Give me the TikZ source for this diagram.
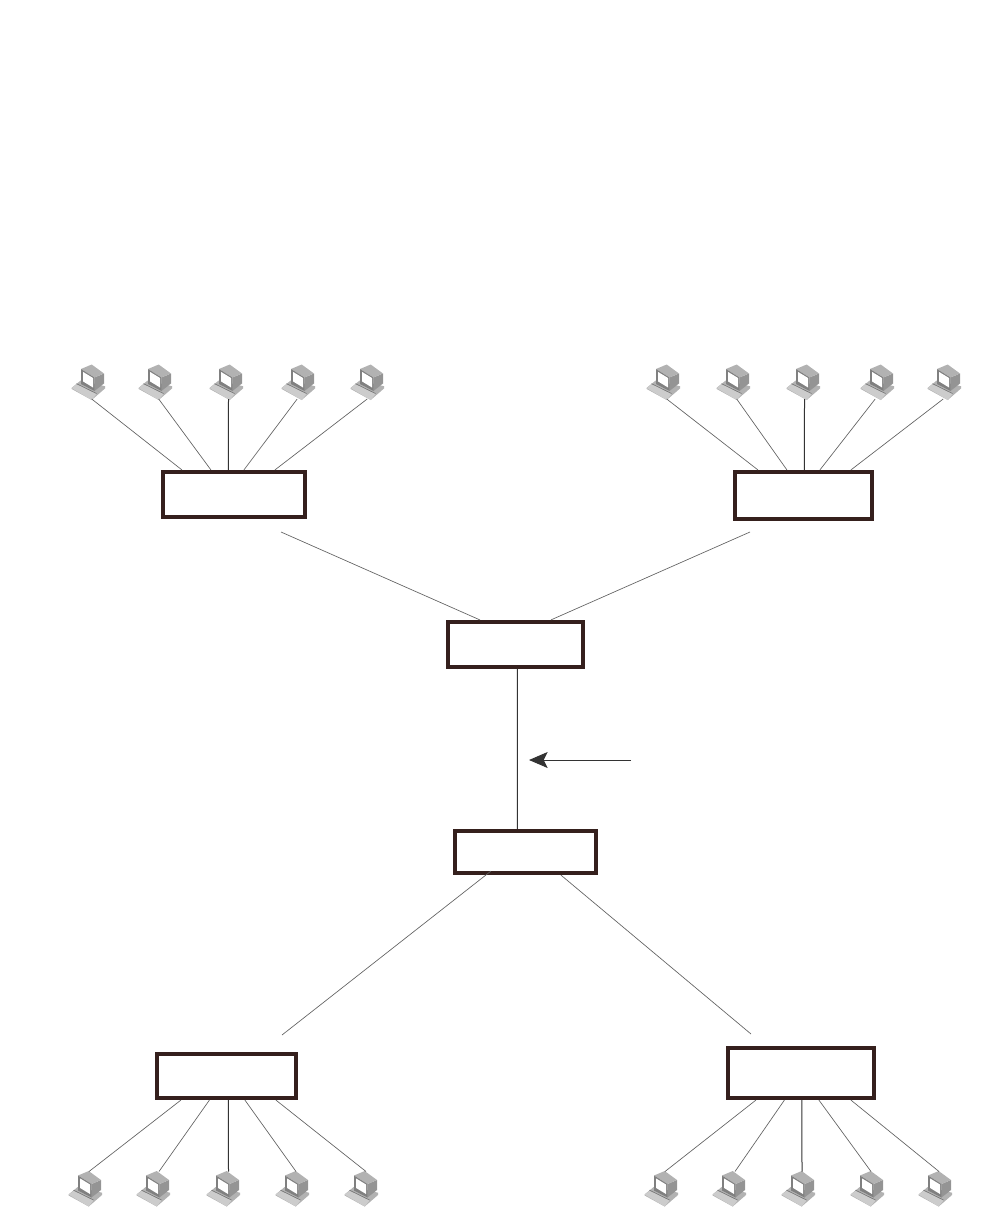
\documentclass[tikz,border=0pt]{standalone}
\usetikzlibrary{arrows.meta}
\definecolor{boxc}{HTML}{35201D}
\definecolor{darkl}{HTML}{333333}
\tikzset{
  box/.style 2 args={draw=boxc,line width=2.9pt,minimum width=#1*0.75pt,minimum height=#2*0.75pt,inner sep=0pt,fill=white},
  thin link/.style={draw=black!62,line width=0.5pt},
  dark link/.style={draw=darkl,line width=0.75pt},
  pc/.pic={
    % base
    \fill[black!30] (-0.3,22.3) -- (8.7,15) -- (33,20.7) -- (33,23) -- (19.7,34.5) -- (-0.3,23.5) -- cycle;
    % keyboard
    \fill[black!20] (-0.3,22.6) -- (5,18.5) -- (24.5,28.5) -- (19.7,34.5) -- cycle;
    \draw[black!55,line width=0.45pt] (4.5,18.2) -- (24.5,28);
    % monitor
    \fill[black!42] (32,8) -- (32,18) -- (22.5,25.5) -- (22.5,12) -- cycle;
    \fill[black!30] (9,3.5) -- (19.7,-1) -- (32,8) -- (22.5,12) -- cycle;
    \fill[black!50] (9,3.5) -- (22.5,12) -- (22.5,25.5) -- (9,18.5) -- cycle;
    \fill[white] (11.2,6.5) -- (21,12.5) -- (21,22) -- (11.2,16) -- cycle;
    \coordinate (-port) at (19.7,33.5);
    \coordinate (-top) at (20,-0.5);
  }
}
\begin{document}
\begin{tikzpicture}[x=0.75pt,y=-0.75pt]
\useasboundingbox (0,0) rectangle (982,1231);
% boxes
\node[box={142}{45}] (b1) at (233.85,494.35) {};
\node[box={137.3}{47}] (b2) at (803.5,495.35) {};
\node[box={135.3}{45.3}] (m1) at (515.5,644.5) {};
\node[box={141}{42.3}] (m2) at (525.35,852) {};
\node[box={139.3}{44.3}] (b3) at (226.5,1076) {};
\node[box={146.3}{50.3}] (b4) at (801,1073) {};
% computers
\foreach \n/\x in {a1/72,a2/139,a3/210,a4/282,a5/351,c1/647,c2/717,c3/787,c4/861,c5/928}
  \pic (\n) at (\x,365.5) {pc};
\foreach \n/\x in {d1/69,d2/137,d3/207,d4/276,d5/345,e1/645,e2/713,e3/782,e4/851,e5/919}
  \pic (\n) at (\x,1172) {pc};
% top-left
\draw[thin link] (a1-port) -- ([shift={(21,0)}]b1.north west);
\draw[thin link] (a2-port) -- ([shift={(50,0)}]b1.north west);
\draw[dark link] ([shift={(-1.2,0)}]a3-port) -- ([shift={(67.5,0)}]b1.north west);
\draw[thin link] ([shift={(-4.5,0)}]a4-port) -- ([shift={(83,0)}]b1.north west);
\draw[thin link] ([shift={(-3.5,0)}]a5-port) -- ([shift={(114,0)}]b1.north west);
% top-right
\draw[thin link] (c1-port) -- ([shift={(25,0)}]b2.north west);
\draw[thin link] (c2-port) -- ([shift={(54,0)}]b2.north west);
\draw[dark link] ([shift={(-2.2,0)}]c3-port) -- ([shift={(71.5,0)}]b2.north west);
\draw[thin link] ([shift={(-5.5,0)}]c4-port) -- ([shift={(87,0)}]b2.north west);
\draw[thin link] ([shift={(-4.5,0)}]c5-port) -- ([shift={(118,0)}]b2.north west);
% bottom-left
\draw[thin link] (d1-top) -- ([shift={(26,0)}]b3.south west);
\draw[thin link] ([shift={(2,0)}]d2-top) -- ([shift={(54.5,0)}]b3.south west);
\draw[dark link] ([shift={(1.5,0)}]d3-top) -- ([shift={(73.5,0)}]b3.south west);
\draw[thin link] (d4-top) -- ([shift={(90,0)}]b3.south west);
\draw[thin link] ([shift={(1,0)}]d5-top) -- ([shift={(121,0)}]b3.south west);
% bottom-right
\draw[thin link] (e1-top) -- ([shift={(30,0)}]b4.south west);
\draw[thin link] ([shift={(2,0)}]e2-top) -- ([shift={(58.5,0)}]b4.south west);
\draw[dark link] (e3-top) -- ([shift={(76,0)}]b4.south west);
\draw[thin link] (e4-top) -- ([shift={(93,0)}]b4.south west);
\draw[thin link] (e5-top) -- ([shift={(125,0)}]b4.south west);
% centre
\coordinate (t1) at (281,532);
\coordinate (t2) at (750,532);
\coordinate (t3) at (282,1035);
\coordinate (t4) at (751,1034);
\coordinate (ar) at (631,760);
\coordinate (al) at (529,760);
\draw[thin link] (t1) -- ([shift={(34,0)}]m1.north west);
\draw[thin link] (t2) -- ([shift={(105,0)}]m1.north west);
\draw[dark link] ([shift={(71.5,0)}]m1.south west) -- ([shift={(64.5,0)}]m2.north west);
\draw[thin link] (t3) -- ([shift={(38,-4)}]m2.south west);
\draw[thin link] (t4) -- ([shift={(108,0)}]m2.south west);
\draw[dark link,-{Stealth[length=14pt,width=12pt,inset=3pt]}] (ar) -- (al);
\end{tikzpicture}
\end{document}
